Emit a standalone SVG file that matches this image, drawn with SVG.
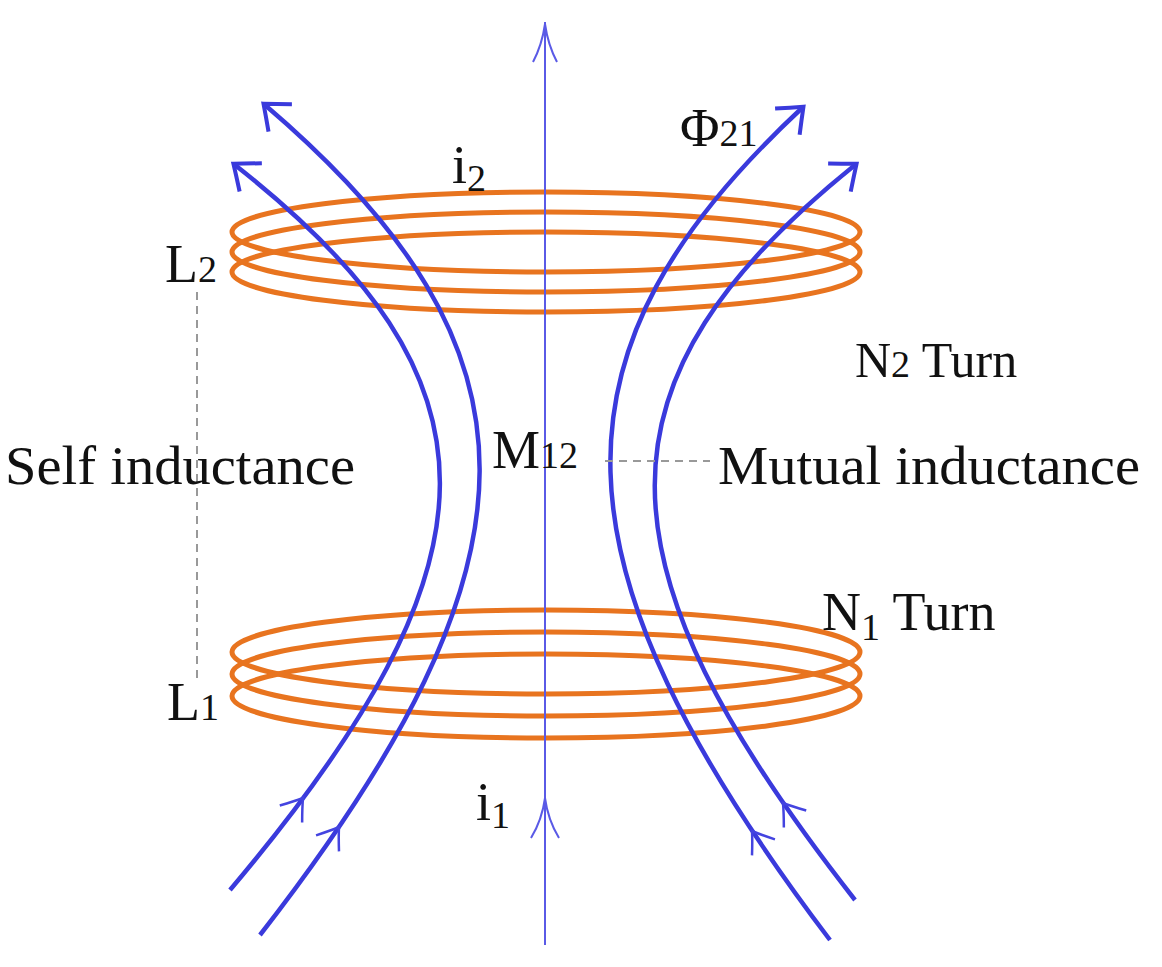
<svg xmlns="http://www.w3.org/2000/svg" width="1162" height="967" viewBox="0 0 1162 967">
<style>
.coil{fill:none;stroke:#e8741f;stroke-width:5}
.flux{fill:none;stroke:#3a3adc;stroke-width:4.5}
.axis{fill:none;stroke:#5a5ae6;stroke-width:2}
.chev{fill:none;stroke:#4444e0;stroke-width:2.5}
.t{font-family:"Liberation Serif","Times New Roman",serif;font-size:54px;fill:#111}
.s{font-size:38px}
.dash{stroke:#999;stroke-width:2;stroke-dasharray:8,6}
</style>
<defs>
<marker id="ah" viewBox="-25 -25 50 50" markerWidth="50" markerHeight="50" markerUnits="userSpaceOnUse" orient="auto-start-reverse">
<path d="M-20,-18 Q-8,-8 2,0 Q-8,8 -20,18" fill="none" stroke="#3a3adc" stroke-width="4"/>
</marker>
</defs>
<rect width="1162" height="967" fill="#fff"/>
<g id="coil2">
<ellipse class="coil" cx="546" cy="232" rx="314" ry="40"/>
<ellipse class="coil" cx="546" cy="252" rx="314" ry="40"/>
<ellipse class="coil" cx="546" cy="272" rx="314" ry="40"/>
</g>
<g id="coil1">
<ellipse class="coil" cx="546" cy="652" rx="314" ry="42"/>
<ellipse class="coil" cx="546" cy="674" rx="314" ry="42"/>
<ellipse class="coil" cx="546" cy="696" rx="314" ry="42"/>
</g>
<g id="connectors">
<line class="axis" x1="545" y1="22" x2="545" y2="945"/>
<path class="axis" d="M533,62 Q542,45 545,24 Q548,45 557,62"/>
<path class="axis" d="M531,838 Q542,820 545,798 Q548,820 559,838"/>
<path class="flux" d="M235,165 C509,380 509,560 230,890" marker-start="url(#ah)"/>
<path class="flux" d="M265,105 C552,350 552,560 260,935" marker-start="url(#ah)"/>
<path class="flux" d="M802,108 C542,350 542,560 830,940" marker-start="url(#ah)"/>
<path class="flux" d="M855,165 C588,380 588,560 855,900" marker-start="url(#ah)"/>
<path class="chev" transform="translate(303,798) rotate(37)" d="M-14,20 Q-5,8 0,0 Q5,8 14,20"/>
<path class="chev" transform="translate(339,827) rotate(35)" d="M-14,20 Q-5,8 0,0 Q5,8 14,20"/>
<path class="chev" transform="translate(783,803) rotate(-37)" d="M-14,20 Q-5,8 0,0 Q5,8 14,20"/>
<path class="chev" transform="translate(752,831) rotate(-35)" d="M-14,20 Q-5,8 0,0 Q5,8 14,20"/>
<line class="dash" x1="197" y1="292" x2="197" y2="680"/>
<line class="dash" x1="605" y1="461" x2="710" y2="461"/>
</g>
<g id="labels">
<text class="t" x="452" y="183">i<tspan class="s" dy="8">2</tspan></text>
<text class="t" x="680" y="146">Φ<tspan class="s">21</tspan></text>
<text class="t" x="165" y="282">L<tspan class="s">2</tspan></text>
<text class="t" x="855" y="377" style="font-size:50px">N<tspan class="s">2</tspan> Turn</text>
<text class="t" x="5" y="484" textLength="350" lengthAdjust="spacingAndGlyphs">Self inductance</text>
<text class="t" x="492" y="468">M<tspan class="s">12</tspan></text>
<text class="t" x="718" y="484" textLength="422" lengthAdjust="spacingAndGlyphs">Mutual inductance</text>
<text class="t" x="822" y="630">N<tspan class="s" dy="10">1</tspan><tspan dy="-10"> Turn</tspan></text>
<text class="t" x="167" y="720">L<tspan class="s">1</tspan></text>
<text class="t" x="476" y="820">i<tspan class="s" dy="8">1</tspan></text>
</g>
</svg>
